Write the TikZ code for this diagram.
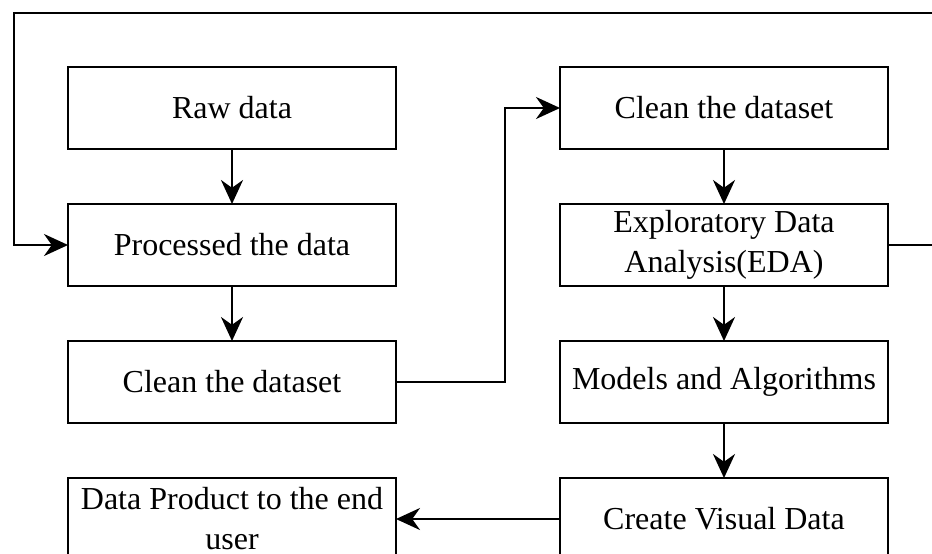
\documentclass[tikz,border=0pt]{standalone}
\usepackage{fontspec}
\setmainfont{Liberation Serif}
\usetikzlibrary{arrows.meta,positioning}

\begin{document}
\begin{tikzpicture}[x=0.5pt,y=-0.5pt,
  flowbox/.style={draw,line width=1.3pt,minimum width=164pt,inner xsep=1pt,
    inner ysep=1pt,outer sep=0pt,minimum height=41pt,align=center,
    font=\fontsize{16}{20}\selectfont},
  flowline/.style={line width=1.3pt},
  flowarrow/.style={flowline,-{Stealth[length=12pt,width=11pt]}}]
  \useasboundingbox (0,0) rectangle (932,553);
  \clip (0,0) rectangle (932,553);
  % Left column
  \node[flowbox] (Raw) at (232,108) {Raw data};
  \node[flowbox,below=27.5pt of Raw] (Proc) {Processed the data};
  \node[flowbox,below=27.5pt of Proc] (CleanL) {Clean the dataset};
  \node[flowbox,below=27.5pt of CleanL] (Product) {Data Product to the end\\user};
  % Right column
  \node[flowbox,right=82pt of Raw] (CleanR) {Clean the dataset};
  \node[flowbox,below=27.5pt of CleanR] (EDA) {Exploratory Data\\Analysis(EDA)};
  \node[flowbox,below=27.5pt of EDA] (Models) {Models and Algorithms};
  \node[flowbox,below=27.5pt of Models] (Visual) {Create Visual Data};
  % Arrows down the columns
  \draw[flowarrow] (Raw) -- (Proc);
  \draw[flowarrow] (Proc) -- (CleanL);
  \draw[flowarrow] (CleanR) -- (EDA);
  \draw[flowarrow] (EDA) -- (Models);
  \draw[flowarrow] (Models) -- (Visual);
  % Links between the columns
  \draw[flowarrow] (CleanL.east) -- ++(109,0) |- (CleanR.west);
  \draw[flowarrow] (Visual.west) -- (Visual.west -| Product.east);
  % Feedback loop round the top
  \coordinate (LoopR) at (960,13);
  \coordinate (LoopL) at (14,13);
  \draw[flowarrow] (EDA.east) -| (LoopR) -- (LoopL) |- (Proc.west);
\end{tikzpicture}
\end{document}
